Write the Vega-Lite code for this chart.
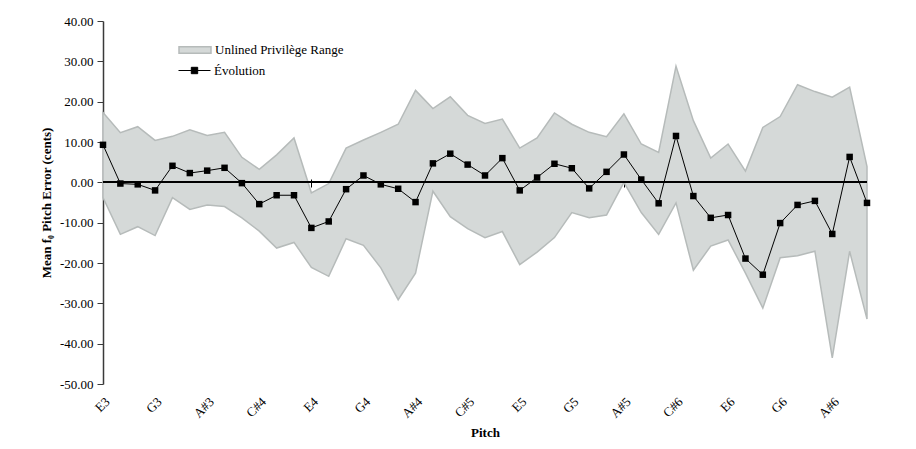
{
  "$schema": "https://vega.github.io/schema/vega-lite/v6.json",
  "width": 764,
  "height": 363,
  "autosize": {"type": "none"},
  "padding": {"left": 103, "top": 21, "right": 49, "bottom": 65},
  "background": "white",
  "config": {
    "view": {"stroke": null},
    "font": "Liberation Serif",
    "axis": {
      "labelFont": "Liberation Serif",
      "labelFontSize": 13,
      "labelColor": "black",
      "titleFont": "Liberation Serif",
      "titleFontSize": 13,
      "titleFontWeight": "bold",
      "titleColor": "black",
      "grid": false,
      "domainColor": "#3a3a3a",
      "tickColor": "#3a3a3a"
    }
  },
  "data": {
    "values": [
      {"note": "E3", "mean": 9.3, "hi": 17.3, "lo": -3.8},
      {"note": "F3", "mean": -0.3, "hi": 12.3, "lo": -12.9},
      {"note": "F#3", "mean": -0.5, "hi": 13.8, "lo": -11.0},
      {"note": "G3", "mean": -2.0, "hi": 10.4, "lo": -13.2},
      {"note": "G#3", "mean": 4.1, "hi": 11.4, "lo": -3.8},
      {"note": "A3", "mean": 2.3, "hi": 13.0, "lo": -6.7},
      {"note": "A#3", "mean": 2.9, "hi": 11.6, "lo": -5.6},
      {"note": "B3", "mean": 3.6, "hi": 12.4, "lo": -6.0},
      {"note": "C4", "mean": -0.2, "hi": 6.2, "lo": -8.8},
      {"note": "C#4", "mean": -5.4, "hi": 3.2, "lo": -12.1},
      {"note": "D4", "mean": -3.2, "hi": 6.8, "lo": -16.3},
      {"note": "D#4", "mean": -3.2, "hi": 11.0, "lo": -14.9},
      {"note": "E4", "mean": -11.3, "hi": -2.6, "lo": -21.1},
      {"note": "F4", "mean": -9.7, "hi": -0.3, "lo": -23.3},
      {"note": "F#4", "mean": -1.7, "hi": 8.5, "lo": -14.0},
      {"note": "G4", "mean": 1.7, "hi": 10.5, "lo": -15.6},
      {"note": "G#4", "mean": -0.5, "hi": 12.4, "lo": -21.2},
      {"note": "A4", "mean": -1.6, "hi": 14.4, "lo": -29.1},
      {"note": "A#4", "mean": -4.9, "hi": 22.8, "lo": -22.5},
      {"note": "B4", "mean": 4.7, "hi": 18.3, "lo": -2.2},
      {"note": "C5", "mean": 7.1, "hi": 21.2, "lo": -8.5},
      {"note": "C#5", "mean": 4.4, "hi": 16.6, "lo": -11.5},
      {"note": "D5", "mean": 1.7, "hi": 14.6, "lo": -13.7},
      {"note": "D#5", "mean": 6.0, "hi": 15.7, "lo": -12.2},
      {"note": "E5", "mean": -2.0, "hi": 8.5, "lo": -20.4},
      {"note": "F5", "mean": 1.2, "hi": 11.0, "lo": -17.3},
      {"note": "F#5", "mean": 4.6, "hi": 17.2, "lo": -13.7},
      {"note": "G5", "mean": 3.5, "hi": 14.4, "lo": -7.5},
      {"note": "G#5", "mean": -1.5, "hi": 12.4, "lo": -8.8},
      {"note": "A5", "mean": 2.6, "hi": 11.3, "lo": -8.1},
      {"note": "A#5", "mean": 6.9, "hi": 17.0, "lo": 0.0},
      {"note": "B5", "mean": 0.7, "hi": 9.5, "lo": -7.5},
      {"note": "C6", "mean": -5.2, "hi": 7.4, "lo": -12.9},
      {"note": "C#6", "mean": 11.5, "hi": 28.8, "lo": -5.1},
      {"note": "D6", "mean": -3.4, "hi": 15.3, "lo": -21.8},
      {"note": "D#6", "mean": -8.8, "hi": 6.0, "lo": -15.8},
      {"note": "E6", "mean": -8.1, "hi": 9.5, "lo": -14.3},
      {"note": "F6", "mean": -18.9, "hi": 2.8, "lo": -22.5},
      {"note": "F#6", "mean": -22.9, "hi": 13.6, "lo": -31.2},
      {"note": "G6", "mean": -10.1, "hi": 16.3, "lo": -18.7},
      {"note": "G#6", "mean": -5.6, "hi": 24.2, "lo": -18.2},
      {"note": "A6", "mean": -4.6, "hi": 22.5, "lo": -17.1},
      {"note": "A#6", "mean": -12.8, "hi": 21.1, "lo": -43.5},
      {"note": "B6", "mean": 6.3, "hi": 23.6, "lo": -17.1},
      {"note": "C7", "mean": -5.1, "hi": 3.9, "lo": -33.9}
    ]
  },
  "resolve": {"axis": {"x": "independent"}},
  "layer": [
    {
      "mark": {"type": "area", "stroke": "#b6bbba", "strokeWidth": 1.5, "opacity": 1},
      "encoding": {
        "x": {
          "field": "note", "type": "ordinal", "sort": null,
          "scale": {"type": "point", "padding": 0},
          "axis": {
            "orient": "bottom",
            "values": ["E3","G3","A#3","C#4","E4","G4","A#4","C#5","E5","G5","A#5","C#6","E6","G6","A#6"],
            "labelAngle": -45,
            "domain": false, "ticks": false,
            "labelPadding": 11, "title": "Pitch", "titlePadding": 6
          }
        },
        "y": {
          "field": "hi", "type": "quantitative",
          "title": "Mean f₀ Pitch Error (cents)",
          "scale": {"domain": [-50, 40], "nice": false, "zero": false},
          "axis": {
            "values": [-50, -40, -30, -20, -10, 0, 10, 20, 30, 40],
            "labelExpr": "replace(format(datum.value, '.2f'), '\u2212', '-')",
            "tickSize": 6, "labelPadding": 4, "domainWidth": 1.5, "titlePadding": 6
          }
        },
        "y2": {"field": "lo"},
        "fill": {
          "datum": "Unlined Privilège Range",
          "scale": {"range": ["#d5d9d8"]},
          "legend": {
            "orient": "none", "legendX": 75, "legendY": 12, "title": null,
            "symbolType": "M-1,-0.2H1V0.2H-1Z", "symbolSize": 1024,
            "symbolStrokeColor": "#b6bbba", "symbolStrokeWidth": 1.5,
            "labelFont": "Liberation Serif", "labelFontSize": 13, "labelColor": "black",
            "labelOffset": 3
          }
        }
      }
    },
    {
      "mark": {"type": "rule", "color": "black", "strokeWidth": 1},
      "encoding": {"y": {"datum": 0}}
    },
    {
      "mark": {"type": "line", "strokeWidth": 1},
      "encoding": {
        "x": {
          "field": "note", "type": "ordinal", "sort": null,
          "axis": {
            "orient": "top", "offset": -166,
            "values": ["E3","G3","A#3","C#4","E4","G4","A#4","C#5","E5","G5","A#5","C#6","E6","G6","A#6"],
            "labels": false, "domain": false, "ticks": true, "tickSize": 8,
            "tickColor": "black", "title": null
          }
        },
        "y": {"field": "mean", "type": "quantitative", "title": "Mean f₀ Pitch Error (cents)"},
        "stroke": {
          "datum": "Évolution",
          "scale": {"range": ["black"]},
          "legend": {
            "orient": "none", "legendX": 75, "legendY": 33, "title": null,
            "symbolType": "M-1,0H1M-0.2,-0.2H0.2V0.2H-0.2Z", "symbolSize": 1024,
            "symbolStrokeWidth": 1, "symbolFillColor": "black",
            "labelFont": "Liberation Serif", "labelFontSize": 13, "labelColor": "black",
            "labelOffset": 3,
            "encode": {"symbols": {"update": {"fill": {"value": "black"}, "stroke": {"value": "black"}}}}
          }
        }
      }
    },
    {
      "mark": {"type": "point", "shape": "square", "filled": true, "size": 42, "color": "black", "opacity": 1},
      "encoding": {
        "x": {"field": "note", "type": "ordinal", "sort": null, "axis": null},
        "y": {"field": "mean", "type": "quantitative", "title": "Mean f₀ Pitch Error (cents)"}
      }
    }
  ]
}
